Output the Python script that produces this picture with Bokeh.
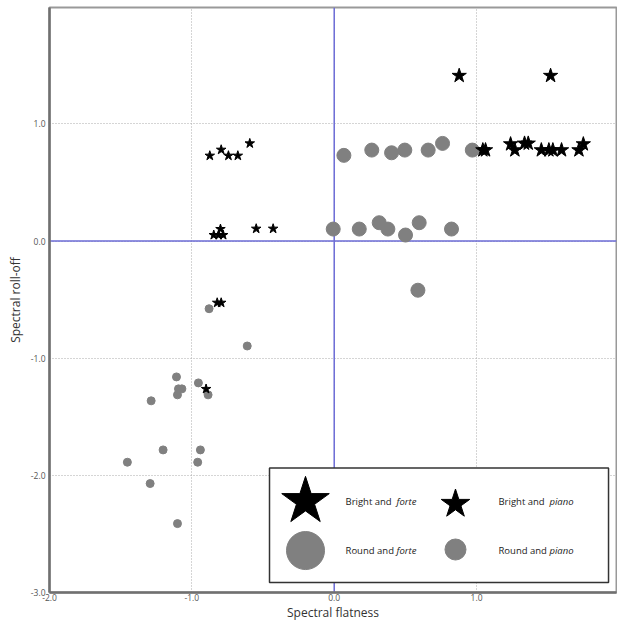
from bokeh.plotting import figure
from bokeh.models import Span, FixedTicker, Range1d, NumeralTickFormatter
from bokeh.core.properties import value
from bokeh.embed import file_html
from bokeh.resources import INLINE

# ---- data ----
bright_forte_x = [0.878, 1.52, 1.044, 1.063, 1.239, 1.269, 1.337, 1.363, 1.455, 1.508, 1.536, 1.597, 1.719, 1.75]
bright_forte_y = [1.411, 1.411, 0.776, 0.776, 0.827, 0.776, 0.833, 0.833, 0.776, 0.776, 0.776, 0.776, 0.776, 0.827]

bright_piano_x = [-0.874, -0.794, -0.743, -0.677, -0.593, -0.846, -0.799, -0.811, -0.780, -0.548, -0.429, -0.822, -0.794, -0.90]
bright_piano_y = [0.728, 0.779, 0.728, 0.728, 0.833, 0.051, 0.102, 0.051, 0.051, 0.105, 0.105, -0.527, -0.527, -1.263]

round_forte_x = [0.068, 0.264, 0.403, 0.496, 0.66, 0.761, 0.97, -0.007, 0.176, 0.316, 0.377, 0.501, 0.597, 0.824, 0.588]
round_forte_y = [0.731, 0.776, 0.753, 0.776, 0.776, 0.833, 0.776, 0.102, 0.102, 0.156, 0.102, 0.051, 0.156, 0.102, -0.42]

round_piano_x = [-0.879, -0.611, -1.108, -0.954, -1.094, -1.07, -1.101, -0.886, -1.286, -1.202, -0.94, -1.453, -0.959, -1.293, -1.101]
round_piano_y = [-0.578, -0.896, -1.16, -1.211, -1.262, -1.262, -1.313, -1.313, -1.364, -1.783, -1.783, -1.888, -1.888, -2.07, -2.412]

x_ticks = [-2.0, -1.0, 0.0, 1.0]
y_ticks = [-3.0, -2.0, -1.0, 0.0, 1.0]
legend_labels_main = ["Bright and", "Bright and", "Round and", "Round and"]
legend_labels_ital = ["forte", "piano", "forte", "piano"]

FONT = "Open Sans"
STAR = "black"
GREY = "#808080"
BLUE = "#6b6bd6"

p = figure(width=617, height=623, x_range=Range1d(-2, 1.983), y_range=Range1d(-3, 1.993),
           output_backend="svg", toolbar_location=None,
           min_border_left=49, min_border_right=1, min_border_top=7, min_border_bottom=29)
p.background_fill_color = "white"
p.border_fill_color = "white"
p.outline_line_color = "#999999"
p.outline_line_width = 2

for ax, ticks in ((p.xaxis[0], x_ticks), (p.yaxis[0], y_ticks)):
    ax.ticker = FixedTicker(ticks=ticks)
    ax.formatter = NumeralTickFormatter(format="0.0")
    ax.major_tick_line_color = None
    ax.minor_tick_line_color = None
    ax.major_tick_out = 0
    ax.major_tick_in = 0
    ax.axis_line_color = "#707070"
    ax.axis_line_width = 2.5
    ax.major_label_text_font = FONT
    ax.major_label_text_font_size = "8.5px"
    ax.major_label_text_color = "#555555"
    ax.axis_label_text_font = FONT
    ax.axis_label_text_font_size = "12px"
    ax.axis_label_text_font_style = "normal"
    ax.axis_label_text_color = "#333333"

p.xaxis.axis_label = "Spectral flatness"
p.yaxis.axis_label = "Spectral roll-off"
p.xaxis.major_label_standoff = 1
p.xaxis.axis_label_standoff = 0
p.yaxis.major_label_standoff = 4
p.yaxis.axis_label_standoff = 4

p.xgrid.ticker = FixedTicker(ticks=x_ticks)
p.ygrid.ticker = FixedTicker(ticks=y_ticks)
for g in (p.xgrid[0], p.ygrid[0]):
    g.grid_line_color = "#aaaaaa"
    g.grid_line_dash = "1 2"
    g.grid_line_width = 1

p.add_layout(Span(location=0, dimension="height", line_color=BLUE, line_width=1.5, level="underlay"))
p.add_layout(Span(location=0, dimension="width", line_color=BLUE, line_width=1.5, level="underlay"))

# data marks
p.scatter(round_piano_x, round_piano_y, marker="circle", size=8, fill_color=GREY, line_color=GREY)
p.scatter(round_forte_x, round_forte_y, marker="circle", size=14, fill_color=GREY, line_color=GREY)
p.scatter(bright_piano_x, bright_piano_y, marker="star", size=10, fill_color=STAR, line_color=STAR)
p.scatter(bright_forte_x, bright_forte_y, marker="star", size=15, fill_color=STAR, line_color=STAR)

# custom legend box (data coords for layout)
p.quad(left=[-0.4545], right=[1.927], top=[-1.937], bottom=[-2.915],
       fill_color="white", line_color="#333333", line_width=1.5)

leg_x = [-0.2016, 0.852, -0.2016, 0.852]
leg_y = [-2.222, -2.245, -2.642, -2.633]
leg_marker = ["star", "star", "circle", "circle"]
leg_size = [50, 30, 38, 21]
leg_color = [STAR, STAR, GREY, GREY]
p.scatter(x=leg_x, y=leg_y, marker=leg_marker, size=leg_size, fill_color=leg_color, line_color=leg_color)

txt_x = [0.0794, 1.154, 0.0794, 1.154]
txt_y = [-2.226, -2.226, -2.642, -2.642]
p.text(x=txt_x, y=txt_y, text=legend_labels_main, text_font=value(FONT), text_font_size="9.5px",
       text_baseline="middle", text_align="left", text_color="#222222")
p.text(x=txt_x, y=txt_y, text=legend_labels_ital, text_font=value(FONT), text_font_size="9.5px",
       text_font_style="italic", text_baseline="middle", text_align="left", text_color="#222222",
       x_offset=51)

open("out.html", "w").write(file_html(p, INLINE))
